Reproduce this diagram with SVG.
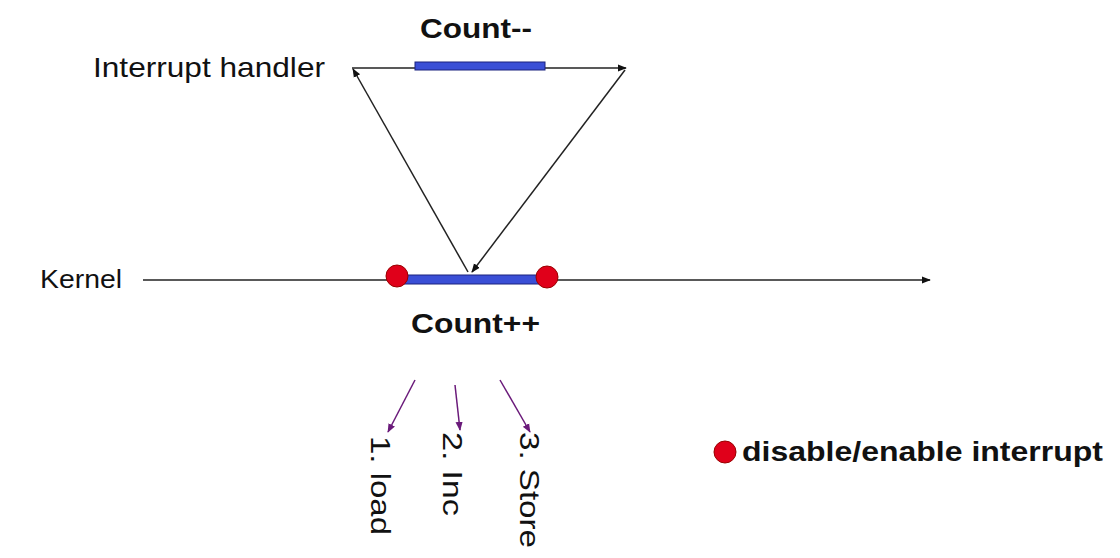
<svg xmlns="http://www.w3.org/2000/svg" width="1120" height="558" viewBox="0 0 1120 558">
<style>
text{font-family:"Liberation Sans",Arial,sans-serif;fill:#111}
.b{font-weight:bold}
.ln{stroke:#222;stroke-width:1.5;fill:none}
.pl{stroke:#6a1a7a;stroke-width:1.5;fill:none}
.bar{fill:#3a4fd6;stroke:#1a237e;stroke-width:1}
.dot{fill:#e0001a;stroke:#900;stroke-width:1}
</style>
<defs>
<marker id="a" viewBox="0 0 10 10" refX="9" refY="5" markerWidth="9" markerHeight="9" markerUnits="userSpaceOnUse" orient="auto"><path d="M0,1L10,5L0,9z" fill="#111"/></marker>
<marker id="p" viewBox="0 0 10 10" refX="9" refY="5" markerWidth="9" markerHeight="9" markerUnits="userSpaceOnUse" orient="auto"><path d="M0,1L10,5L0,9z" fill="#6a1a7a"/></marker>
</defs>
<rect width="1120" height="558" fill="#fff"/>
<g id="connectors">
<line class="ln" x1="143" y1="280" x2="930" y2="280" marker-end="url(#a)"/>
<line class="ln" x1="352" y1="68" x2="626" y2="68" marker-end="url(#a)"/>
<line class="ln" x1="468" y1="272" x2="353" y2="69" marker-end="url(#a)"/>
<line class="ln" x1="625" y1="70" x2="472" y2="272" marker-end="url(#a)"/>
<line class="pl" x1="415" y1="380" x2="388" y2="432" marker-end="url(#p)"/>
<line class="pl" x1="455" y1="385" x2="460" y2="430" marker-end="url(#p)"/>
<line class="pl" x1="500" y1="380" x2="530" y2="432" marker-end="url(#p)"/>
</g>
<g id="kernel"><text x="40" y="288" font-size="26" textLength="82" lengthAdjust="spacingAndGlyphs">Kernel</text></g>
<g id="handler"><text x="93" y="77" font-size="28" textLength="232" lengthAdjust="spacingAndGlyphs">Interrupt handler</text></g>
<g id="countdec"><rect class="bar" x="415" y="62" width="130" height="8"/><text class="b" x="420" y="38" font-size="28" textLength="112" lengthAdjust="spacingAndGlyphs">Count--</text></g>
<g id="countinc"><rect class="bar" x="398" y="275" width="148" height="9"/>
<circle class="dot" cx="397" cy="276" r="11"/><circle class="dot" cx="547" cy="277" r="11"/>
<text class="b" x="411" y="333" font-size="28" textLength="129" lengthAdjust="spacingAndGlyphs">Count++</text></g>
<g id="steps">
<text transform="translate(371,436) rotate(90)" font-size="28" textLength="99" lengthAdjust="spacingAndGlyphs">1. load</text>
<text transform="translate(443,432) rotate(90)" font-size="28" textLength="84" lengthAdjust="spacingAndGlyphs">2. Inc</text>
<text transform="translate(520,432) rotate(90)" font-size="28" textLength="116" lengthAdjust="spacingAndGlyphs">3. Store</text>
</g>
<g id="legend"><circle class="dot" cx="725" cy="452" r="11"/><text class="b" x="742" y="461" font-size="28" textLength="361" lengthAdjust="spacingAndGlyphs">disable/enable interrupt</text></g>
</svg>
